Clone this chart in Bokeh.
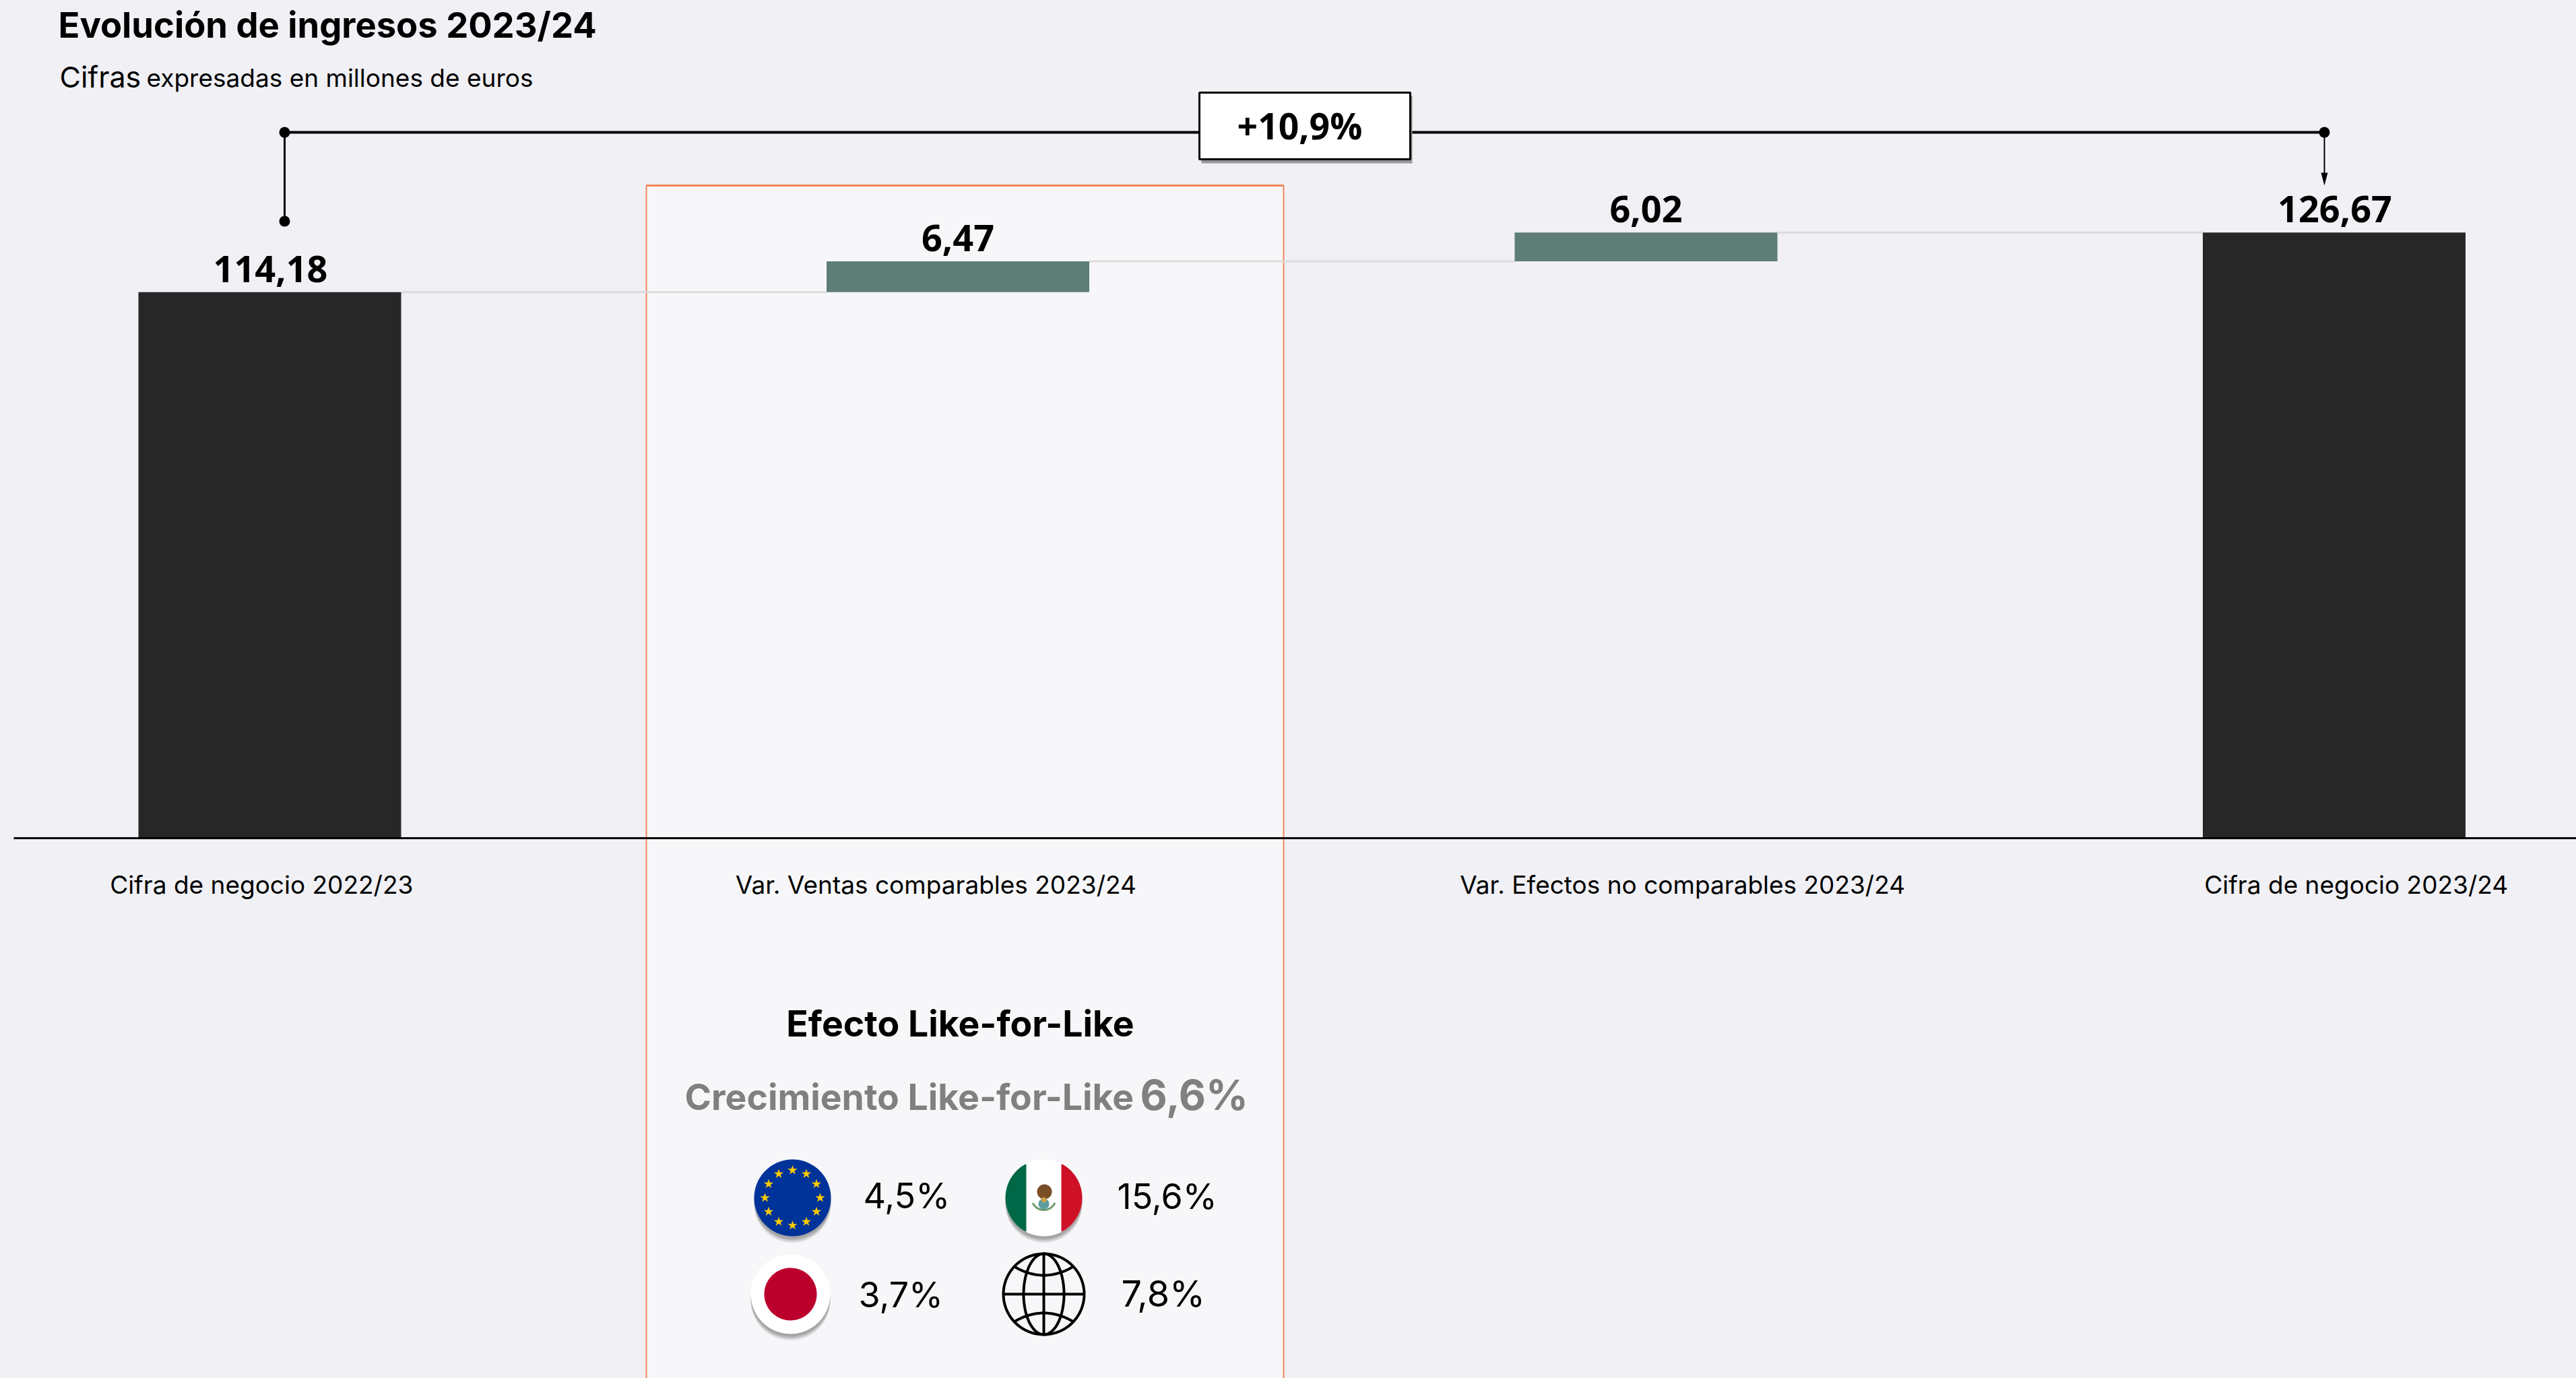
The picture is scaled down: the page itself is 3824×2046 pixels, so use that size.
import numpy as np
from bokeh.core.properties import value
from bokeh.embed import file_html
from bokeh.models import FixedTicker, GlobalInlineStyleSheet, LinearAxis, Range1d
from bokeh.plotting import figure
from bokeh.resources import INLINE

# ---- data ----
categories = ["Cifra de negocio 2022/23", "Var. Ventas comparables 2023/24",
              "Var. Efectos no comparables 2023/24", "Cifra de negocio 2023/24"]
values = [114.18, 6.47, 6.02, 126.67]
is_total = [True, False, False, True]
label_ticks = [-0.012, 0.968, 2.053, 3.032]
title = "Evolución de ingresos 2023/24"
subtitle_a = "Cifras"
subtitle_b = "expresadas en millones de euros"
growth = "+10,9%"
lfl_title = "Efecto Like-for-Like"
lfl_sub = "Crecimiento Like-for-Like"
lfl_total = "6,6%"
lfl_eu, lfl_mx, lfl_jp, lfl_world = "4,5%", "15,6%", "3,7%", "7,8%"

BG, PANEL, DARK, GREEN, ORANGE = "#F0F0F5", "#F7F7FA", "#272727", "#5E7D75", "#F5845A"
FONT = "Inter"
NUM_FONT = "Open Sans"

W, H = 3824, 2046
PX_PER_UNIT, BASE_PX, CAT0_PX, CAT_STEP = 7.1, 1244.0, 400.0, 1021.5
BAR_W = 390 / CAT_STEP


def X(px):
    return (np.asarray(px, dtype=float) - CAT0_PX) / CAT_STEP


def Y(px):
    return (BASE_PX - np.asarray(px, dtype=float)) / PX_PER_UNIT


p = figure(width=W, height=H, output_backend="svg", toolbar_location=None,
           x_range=Range1d(float(X(0)), float(X(W))),
           y_range=Range1d(float(Y(H)), float(Y(0))),
           x_axis_location=None, y_axis_location=None,
           min_border=0, background_fill_color=BG, border_fill_color=BG,
           outline_line_color=None)
p.grid.visible = False
p.stylesheets = [GlobalInlineStyleSheet(css=f"html,body{{background:{BG};}}")]


def txt(px, py, s, size, color="black", style="normal", align="left", font=FONT):
    p.text([float(X(px))], [float(Y(py - 0.34 * size))], text=[s], text_font=value(font),
           text_font_size=f"{size}px", text_color=color, text_font_style=style,
           text_align=align, text_baseline="alphabetic")


def circle_poly(cx, cy, r, n=120):
    t = np.linspace(0, 2 * np.pi, n)
    return cx + r * np.cos(t), cy + r * np.sin(t)


def disc(cx, cy, r, color, alpha=1.0):
    xs, ys = circle_poly(cx, cy, r)
    p.patch(X(xs), Y(ys), fill_color=color, fill_alpha=alpha, line_color=None)


def shadow(cx, cy, r):
    for dy, dr, a in [(10, 0, 0.10), (8, 0, 0.14), (6, 0, 0.18), (4, 0, 0.2)]:
        disc(cx, cy + dy, r + dr, "#555555", a)


def strip(cx, cy, r, x0, x1, color):
    t = np.linspace(-1, 1, 80)
    ys = cy + r * t
    half = np.sqrt(np.maximum(r**2 - (ys - cy) ** 2, 0))
    left = np.maximum(cx - half, x0)
    right = np.minimum(cx + half, x1)
    keep = right >= left
    px_ = np.concatenate([left[keep], right[keep][::-1]])
    py_ = np.concatenate([ys[keep], ys[keep][::-1]])
    p.patch(X(px_), Y(py_), fill_color=color, line_color=None)


# ---- highlighted panel ----
p.quad(left=[float(X(959))], right=[float(X(1905))], top=[float(Y(275))], bottom=[float(Y(2200))],
       fill_color=PANEL, line_color=ORANGE, line_width=2)
p.line(X([959, 1905]), Y([275, 275]), line_color=ORANGE, line_width=3)

# ---- waterfall ----
bottoms, tops, running = [], [], 0.0
for v, total in zip(values, is_total):
    if total:
        bottoms.append(0.0)
        tops.append(v)
        running = v
    else:
        bottoms.append(running)
        running += v
        tops.append(running)

for i in range(len(values) - 1):
    p.segment(i + BAR_W / 2, tops[i], i + 1 - BAR_W / 2, tops[i], line_color="#DCDCDC", line_width=3)

idx = list(range(len(values)))
p.vbar(x=idx, width=BAR_W, bottom=bottoms, top=tops, line_color=None,
       fill_color=[DARK if t else GREEN for t in is_total])

label_shift_px = [1, 0, 0, 1]
for i, v in enumerate(values):
    s = f"{v:.2f}".replace(".", ",")
    txt(CAT0_PX + i * CAT_STEP + label_shift_px[i], BASE_PX - tops[i] * PX_PER_UNIT - 16, s, 54,
        style="bold", align="center", font=NUM_FONT)

axis = LinearAxis(fixed_location=0, ticker=FixedTicker(ticks=label_ticks),
                  major_label_overrides=dict(zip(label_ticks, categories)),
                  major_tick_line_color=None, minor_tick_line_color=None,
                  axis_line_color="black", axis_line_width=3,
                  major_label_text_font=FONT, major_label_text_font_size="37px",
                  major_label_text_color="black", major_label_standoff=40,
                  bounds=(float(X(20)), float(X(W))))
p.add_layout(axis, "below")

# ---- bracket ----
p.line(X([422, 422]), Y([197, 328]), line_color="black", line_width=3)
p.line(X([422, 3450]), Y([196, 196]), line_color="black", line_width=4)
p.line(X([3450, 3450]), Y([197, 262]), line_color="black", line_width=2)
p.patch(X([3445, 3455, 3450]), Y([256, 256, 275]), fill_color="black", line_color=None)
p.scatter(X([422, 422, 3450]), Y([196, 328, 196]), size=16, marker="circle", fill_color="black", line_color=None)
p.quad(left=[float(X(1783))], right=[float(X(2096))], top=[float(Y(142))], bottom=[float(Y(242))],
       fill_color="#999999", line_color=None)
p.quad(left=[float(X(1780))], right=[float(X(2093))], top=[float(Y(137))], bottom=[float(Y(236))],
       fill_color="white", line_color="black", line_width=3)
txt(1929, 204, growth, 53.5, style="bold", align="center", font=NUM_FONT)

# ---- titles ----
txt(86, 54, title, 52.5, style="bold")
txt(88, 128, subtitle_a, 43)
txt(217, 128, subtitle_b, 37)

# ---- like-for-like panel ----
txt(1425, 1537, lfl_title, 53.5, style="bold", align="center")
txt(1016, 1646, lfl_sub, 53.5, color="#808080", style="bold")
txt(1692, 1646, lfl_total, 62, color="#808080", style="bold")
txt(1281, 1793, lfl_eu, 52)
txt(1658, 1794, lfl_mx, 52)
txt(1274, 1940, lfl_jp, 52)
txt(1664, 1938, lfl_world, 54)

# EU flag
cx, cy, r = 1176, 1778, 57
shadow(cx, cy, r)
disc(cx, cy, r, "#003399")
ang = np.arange(12) * np.pi / 6
p.scatter(X(cx + 41 * np.cos(ang)), Y(cy + 41 * np.sin(ang)), marker="star", size=15,
          fill_color="#FFCC00", line_color=None)

# Mexican flag
cx, cy, r = 1549, 1778, 57
shadow(cx, cy, r)
disc(cx, cy, r, "white")
strip(cx, cy, r, cx - r, 1523, "#006847")
strip(cx, cy, r, 1575, cx + r, "#CE1126")
xs, ys = circle_poly(cx, cy, 18)
p.line(X(xs[8:52]), Y(ys[8:52]), line_color="#6E9A6E", line_width=3)
disc(cx + 1, cy - 9, 11, "#7A4E26")
disc(cx, cy + 9, 8, "#5F9EA0")
disc(cx, cy + 3, 4, "#C9A24B")

# Japanese flag
cx, cy, r = 1173, 1921, 59
shadow(cx, cy, r)
disc(cx, cy, r, "white")
disc(cx, cy, 39, "#BC002D")

# globe
cx, cy, r = 1549, 1921, 60
GL = dict(line_color="black", line_width=4)
xs, ys = circle_poly(cx, cy, r)
p.line(X(xs), Y(ys), **GL)
t = np.linspace(0, 2 * np.pi, 120)
p.line(X(cx + 30 * np.cos(t)), Y(cy + r * np.sin(t)), **GL)
p.line(X([cx, cx]), Y([cy - r, cy + r]), **GL)
p.line(X([cx - r, cx + r]), Y([cy, cy]), **GL)
arc_x = np.linspace(-44, 44, 40)
sag = 13 * (1 - (arc_x / 44) ** 2)
p.line(X(cx + arc_x), Y(cy - 41 + sag), **GL)
p.line(X(cx + arc_x), Y(cy + 41 - sag), **GL)

open("out.html", "w").write(file_html(p, INLINE))
